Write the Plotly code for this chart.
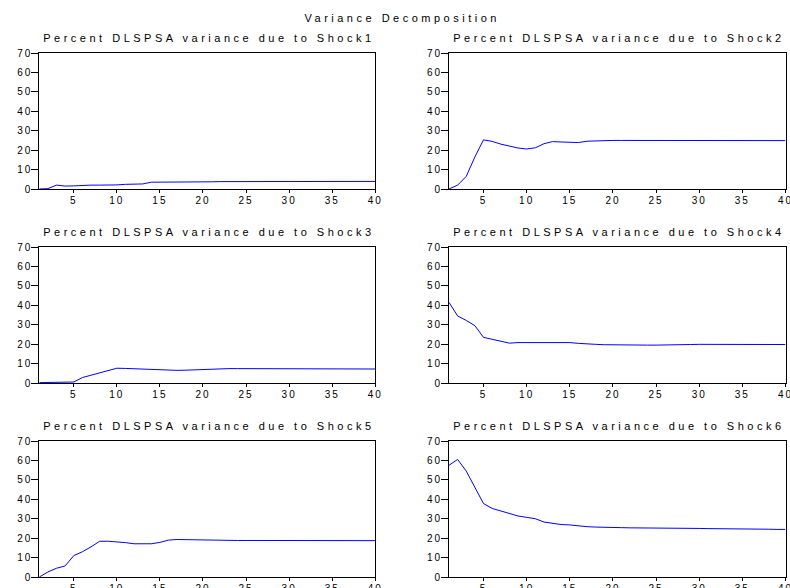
import plotly.graph_objects as go

periods = list(range(1, 41))
x_tick_values = [5, 10, 15, 20, 25, 30, 35, 40]
y_tick_values = [0, 10, 20, 30, 40, 50, 60, 70]

main_title = "Variance Decomposition"
panel_titles = [
    "Percent DLSPSA variance due to Shock1",
    "Percent DLSPSA variance due to Shock2",
    "Percent DLSPSA variance due to Shock3",
    "Percent DLSPSA variance due to Shock4",
    "Percent DLSPSA variance due to Shock5",
    "Percent DLSPSA variance due to Shock6",
]

shock1 = [0.0, 0.2, 2.0, 1.5, 1.6, 1.9, 2.0, 2.0, 2.0, 2.1, 2.4, 2.5, 2.6, 3.5, 3.5,
          3.4, 3.4, 3.5, 3.5, 3.6, 3.7, 3.8, 3.8, 3.8, 3.9, 3.9, 3.9, 3.9, 3.9, 4.0,
          4.0, 4.0, 4.0, 4.0, 4.0, 4.0, 4.0, 4.0, 3.9, 3.9]
shock2 = [0.0, 2.0, 6.5, 16.5, 25.3, 24.5, 23.1, 21.9, 21.1, 20.6, 21.2, 23.3, 24.4, 24.2,
          23.9, 23.9, 24.6, 24.8, 25.1, 25.0, 25.0, 25.0, 24.9, 24.9, 24.8, 24.8, 24.8,
          24.8, 24.8, 24.8, 24.9, 25.0, 25.1, 25.1, 25.1, 25.1, 25.0, 25.0, 24.9, 24.9]
shock3 = [0.2, 0.2, 0.3, 0.4, 0.5, 2.8, 4.0, 5.0, 6.3, 7.6, 7.5, 7.3, 7.1, 7.0, 6.8, 6.6,
          6.5, 6.6, 6.8, 7.0, 7.2, 7.3, 7.4, 7.4, 7.4, 7.4, 7.4, 7.4, 7.4, 7.4, 7.3, 7.3,
          7.3, 7.3, 7.3, 7.3, 7.3, 7.3, 7.2, 7.2]
shock4 = [41.5, 34.5, 32.2, 29.5, 23.5, 22.5, 21.5, 20.5, 20.8, 20.8, 20.8, 21.0, 20.7,
          20.8, 20.8, 20.4, 20.0, 19.9, 19.7, 19.6, 19.6, 19.6, 19.5, 19.5, 19.5, 19.5,
          19.6, 19.8, 19.8, 19.9, 19.9, 19.9, 19.9, 19.9, 19.9, 19.8, 19.8, 19.8, 19.8, 19.8]
shock5 = [0.0, 2.6, 4.5, 5.7, 11.0, 13.0, 15.5, 18.4, 18.4, 18.1, 17.7, 17.1, 17.0, 17.1,
          17.8, 19.0, 19.3, 19.2, 19.0, 18.9, 18.9, 18.8, 18.8, 18.8, 18.8, 18.8, 18.8,
          18.7, 18.7, 18.7, 18.6, 18.6, 18.6, 18.5, 18.5, 18.6, 18.6, 18.7, 18.7, 18.7]
shock6 = [57.5, 60.5, 54.5, 46.0, 37.8, 35.3, 34.0, 32.6, 31.4, 30.7, 30.0, 28.3, 27.6,
          27.0, 26.8, 26.3, 25.9, 25.7, 25.5, 25.4, 25.4, 25.3, 25.3, 25.2, 25.2, 25.2,
          25.1, 25.1, 25.0, 25.0, 24.9, 24.9, 24.8, 24.8, 24.7, 24.7, 24.6, 24.6, 24.5, 24.5]

series = [shock1, shock2, shock3, shock4, shock5, shock6]

W, H = 790, 588
x_domains = [[39.3 / W, 375.3 / W], [449.0 / W, 785.5 / W]]
row_px = [(53, 189), (247, 383), (441, 577)]
y_domains = [[1 - b / H, 1 - t / H] for (t, b) in row_px]
title_y_px = [38, 232, 426]

font_family = "Liberation Sans, Arial, sans-serif"

fig = go.Figure()
annotations = []
for i, vals in enumerate(series):
    r, c = divmod(i, 2)
    n = i + 1
    xa = "x" if n == 1 else f"x{n}"
    ya = "y" if n == 1 else f"y{n}"
    fig.add_trace(go.Scatter(x=periods, y=vals, mode="lines",
                             line=dict(color="#0000FF", width=1),
                             xaxis=xa, yaxis=ya, showlegend=False,
                             hoverinfo="skip"))
    xkey = "xaxis" if n == 1 else f"xaxis{n}"
    ykey = "yaxis" if n == 1 else f"yaxis{n}"
    fig.update_layout(**{
        xkey: dict(domain=x_domains[c], anchor=ya, range=[1, 40],
                   tickvals=x_tick_values, ticks="outside", ticklen=3,
                   tickcolor="black", showline=True, linecolor="black",
                   linewidth=1, mirror=True, showgrid=False, zeroline=False,
                   automargin=False, ticklabelstandoff=-1,
                   ticklabeloverflow="allow",
                   tickfont=dict(family=font_family, size=10, color="black")),
        ykey: dict(domain=y_domains[r], anchor=xa, range=[0, 70],
                   tickvals=y_tick_values, ticks="outside", ticklen=7,
                   tickcolor="black", showline=True, linecolor="black",
                   linewidth=1, mirror=True, showgrid=False, zeroline=False,
                   automargin=False, ticklabelstandoff=-3,
                   ticklabeloverflow="allow",
                   tickfont=dict(family=font_family, size=10, color="black")),
    })
    annotations.append(dict(text=panel_titles[i], xref="paper", yref="paper",
                            x=sum(x_domains[c]) / 2 + 1.5 / W,
                            y=1 - title_y_px[r] / H,
                            xanchor="center", yanchor="middle", showarrow=False,
                            font=dict(family=font_family, size=11, color="black")))

annotations.append(dict(text=main_title, xref="paper", yref="paper",
                        x=402 / W, y=1 - 18 / H, xanchor="center", yanchor="middle",
                        showarrow=False,
                        font=dict(family=font_family, size=11, color="black")))

fig.update_layout(template="none", width=W, height=H,
                  margin=dict(l=0, r=0, t=0, b=0, pad=0),
                  paper_bgcolor="white", plot_bgcolor="white",
                  annotations=annotations, showlegend=False)

css_js = (
    "var s=document.createElement('style');"
    "s.textContent='html,body{margin:0;padding:0;overflow:hidden}"
    " .annotation-text{letter-spacing:3.5px}"
    " g[class*=\"tick\"] text{letter-spacing:2px}';"
    "document.head.appendChild(s);"
)
fig.write_html("out.html", post_script=css_js, config={"displayModeBar": False})
